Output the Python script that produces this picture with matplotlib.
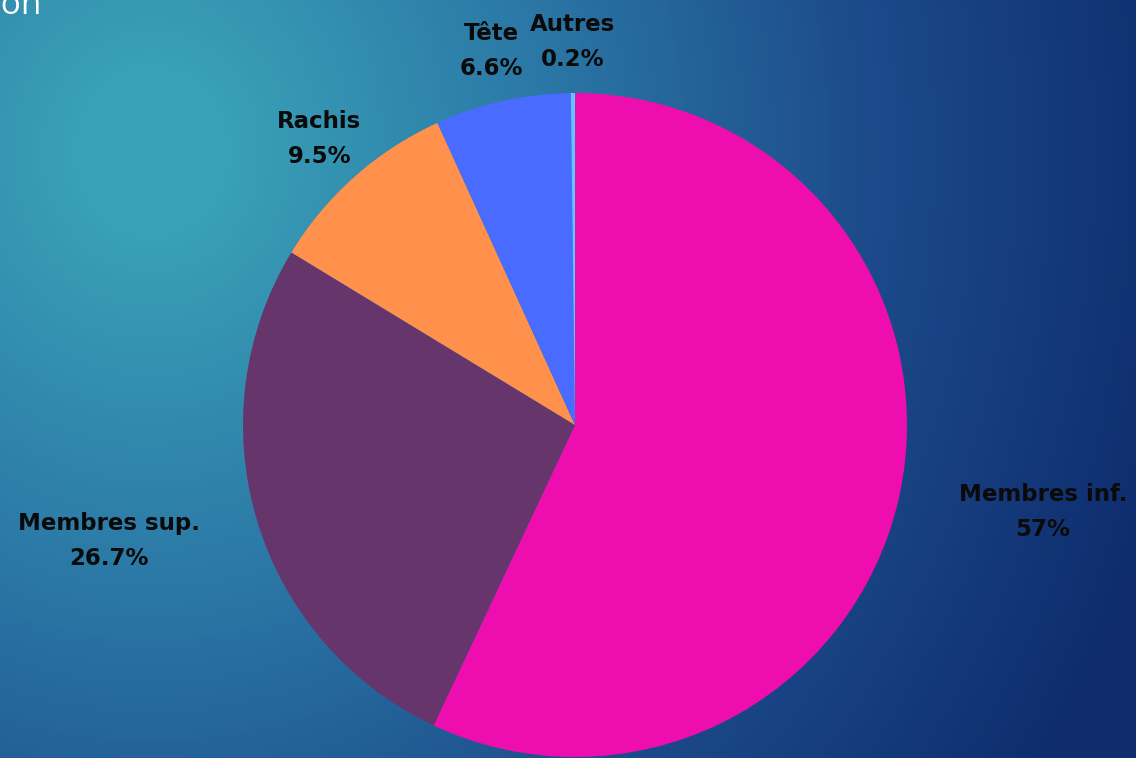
import matplotlib.pyplot as plt
import numpy as np
from matplotlib.colors import LinearSegmentedColormap

# data
labels = ['Membres inf.', 'Membres sup.', 'Rachis', 'Tête', 'Autres']
values = [57, 26.7, 9.5, 6.6, 0.2]
pct_text = ['57%', '26.7%', '9.5%', '6.6%', '0.2%']
colors = ['#EE0EAF', '#66356B', '#FF914D', '#4A6BFF', '#5CC8FF']

W, H = 1136, 758
fig = plt.figure(figsize=(W / 100, H / 100), dpi=100)
ax = fig.add_axes([0, 0, 1, 1])

# background gradient (teal top-left -> navy bottom-right), rows from top
xx, yy = np.meshgrid(np.linspace(0, W, 300), np.linspace(0, H, 200))
d = np.hypot(xx - 150, (yy - 150) * 0.9)
t = np.clip((d - 60) / 1000, 0, 1)
bg = LinearSegmentedColormap.from_list('bg', ['#3AA2B8', '#2B78A6', '#1C4A8A', '#0E2C6E'])
ax.imshow(bg(t), extent=[0, W, 0, H], origin='upper', aspect='auto', zorder=0)

# pie
cx, cy, R = 575, H - 425, 332
wedges, _ = ax.pie(values, colors=colors, startangle=90, counterclock=False,
                   center=(cx, cy), radius=R, frame=True,
                   wedgeprops=dict(linewidth=0))
ax.set_xlim(0, W)
ax.set_ylim(0, H)
ax.set_aspect('auto')
ax.axis('off')

# labels placed along each wedge's mid angle
dist = [1.42, 1.42, 1.16, 1.16, 1.16]
shift = [(8, 16), (-15, 20), (0, -2), (0, -2), (0, -2)]
for w, lab, p, f, s in zip(wedges, labels, pct_text, dist, shift):
    ang = np.deg2rad((w.theta1 + w.theta2) / 2)
    x = cx + np.cos(ang) * R * f + s[0]
    y = cy + np.sin(ang) * R * f + s[1]
    ax.text(x, y, lab + '\n' + p, ha='center', va='center', fontsize=16.5,
            fontweight='bold', family='DejaVu Sans', color='#0a0a0a',
            linespacing=1.65, zorder=5)

# cut-off title fragment at top-left
ax.text(42, H - 14, 'Localisation', ha='right', va='baseline', fontsize=24,
        color='white', family='Open Sans', zorder=5)

fig.savefig('out.png', dpi=100)
